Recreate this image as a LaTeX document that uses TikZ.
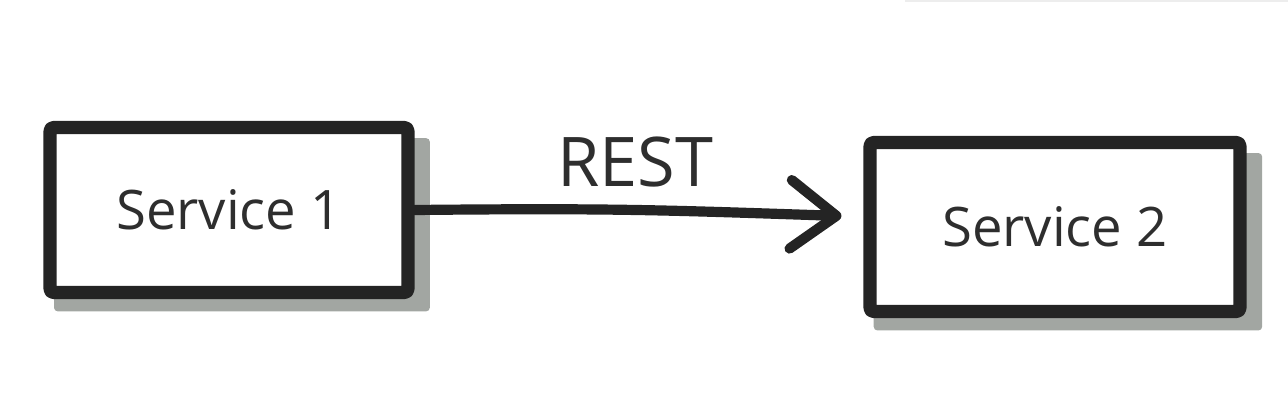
\documentclass[tikz,border=0pt]{standalone}
\usepackage{fontspec}
\setmainfont{Open Sans}
\usetikzlibrary{arrows.meta,shadows,calc}
\definecolor{ink}{HTML}{242424}
\definecolor{txt}{HTML}{2E2E2E}
\definecolor{shade}{HTML}{A2A6A2}
\definecolor{edge}{HTML}{EDEDED}
\tikzset{
  svcbox/.style={draw=ink, line width=7.5pt, fill=white, inner sep=0pt,
    line join=round, rounded corners=2pt,
    text=txt, font=\fontsize{31}{36}\selectfont,
    drop shadow={shadow xshift=7pt, shadow yshift=-8pt, shadow scale=1.05, fill=shade, opacity=1}},
  restline/.style={draw=ink, line width=5.8pt, line cap=round,
    -{Straight Barb[length=26pt, width=39pt, line cap=round, line join=round]}},
  restlabel/.style={text=txt, font=\fontsize{39}{44}\selectfont, inner sep=0pt}
}
\begin{document}
\begin{tikzpicture}[x=0.02cm, y=-0.02cm]
\useasboundingbox (0,0) rectangle (1288,406);
\draw[edge, line width=1.2pt] (905,1) -- (1288,1);
\node[svcbox, minimum width=7.16cm, minimum height=3.3cm] (s1) at (229,210) {Service 1};
\node[svcbox, minimum width=7.4cm, minimum height=3.38cm] (s2) at (1055,227) {Service 2};
\coordinate (tip) at ($(s2.west)+(-22,-11)$);
\draw[restline] (s1.east) .. controls ($(s1.east)+(200,-2)$) and ($(tip)+(-180,-6)$) .. (tip)
  node[restlabel, pos=0.5, above=10pt] (rest) {REST};
\end{tikzpicture}
\end{document}
